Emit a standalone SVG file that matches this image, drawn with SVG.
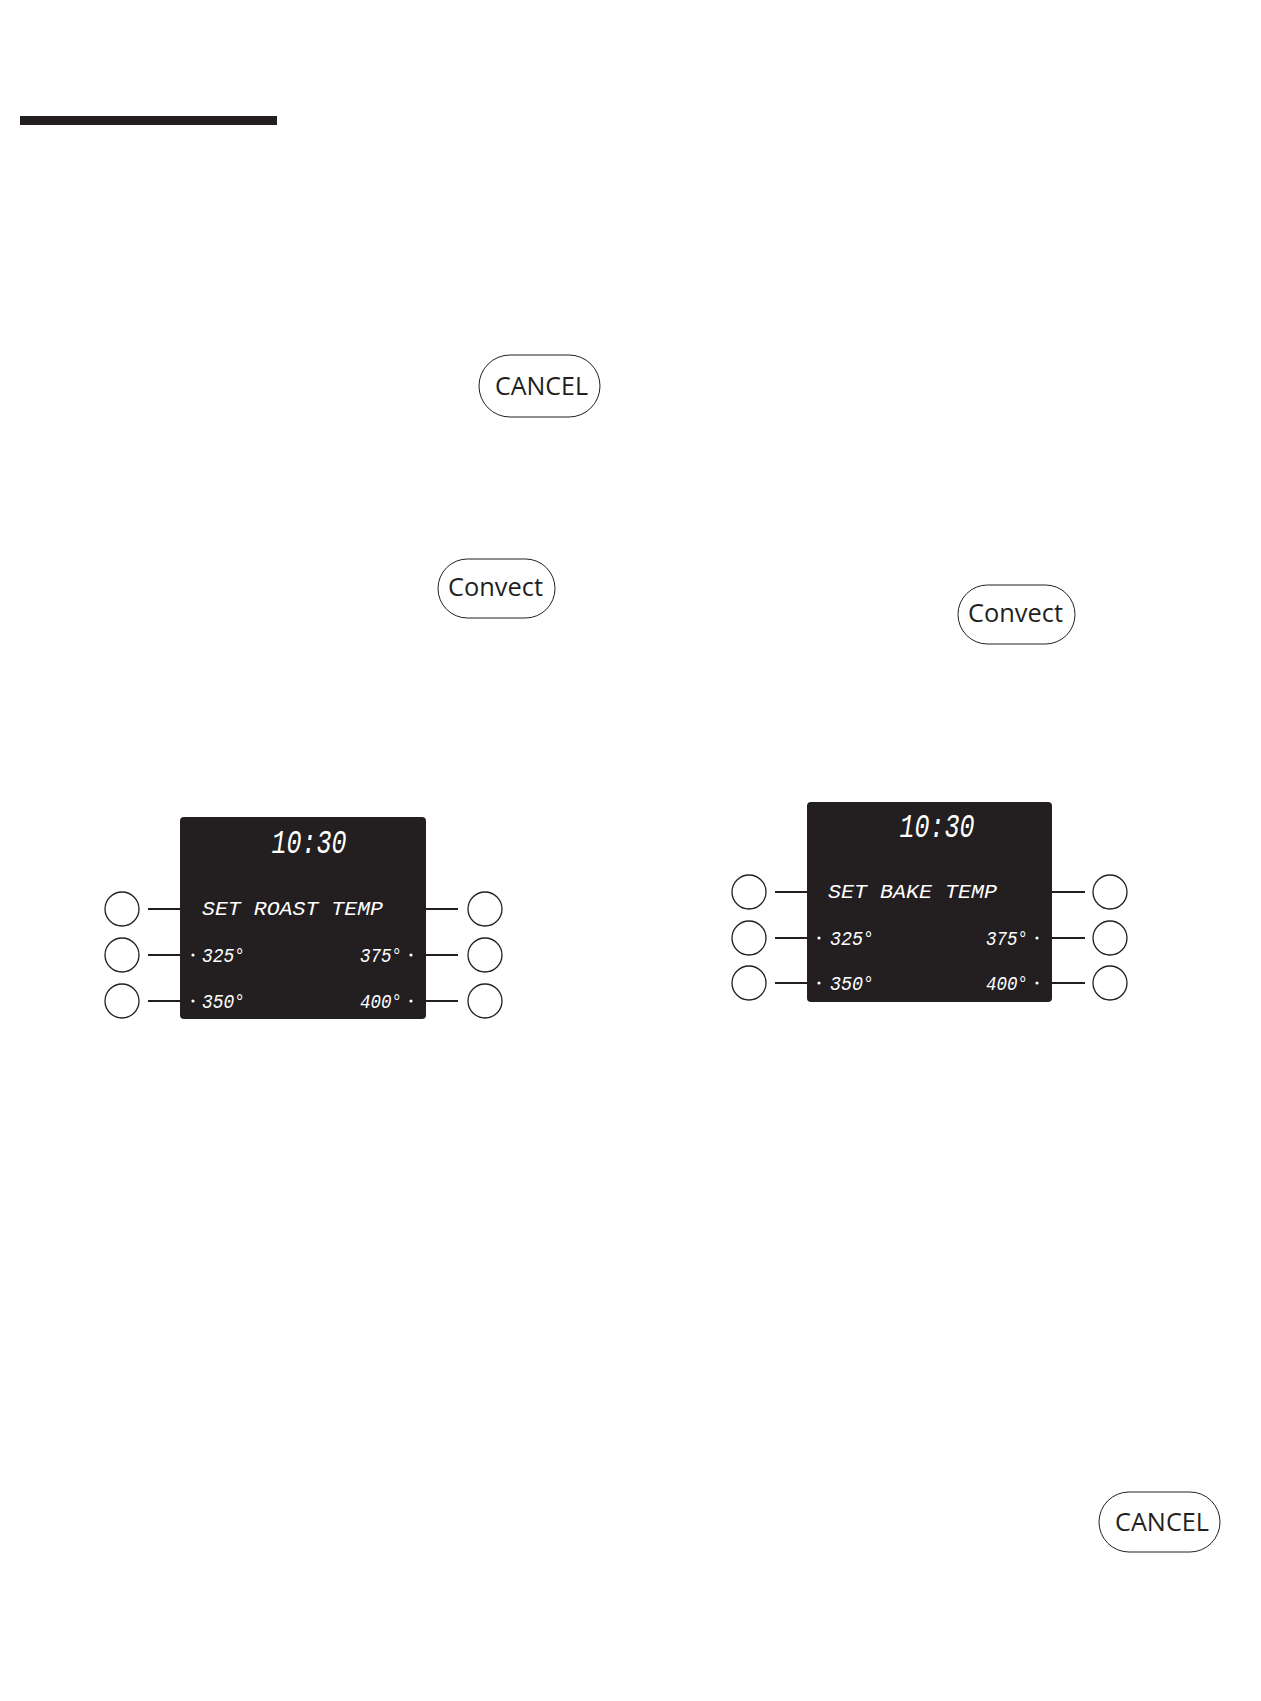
<svg xmlns="http://www.w3.org/2000/svg" width="1261" height="1701" viewBox="0 0 1261 1701">
<style>
.pill{fill:#fff;stroke:#231f20;stroke-width:1}
.btn{font-family:"Open Sans","Liberation Sans",sans-serif;fill:#231f20;font-size:25px}
.disp{fill:#231f20}
.lcd{font-family:"Liberation Mono","DejaVu Sans Mono",monospace;font-style:italic;fill:#fff}
.key{fill:#fff;stroke:#231f20;stroke-width:1.3}
.lead{stroke:#231f20;stroke-width:2;fill:none}
.dot{fill:#fff}
</style>
<rect x="20" y="116" width="257" height="9" fill="#231f20"/>

<g id="cancel-1">
<rect class="pill" x="479" y="355" width="121" height="62" rx="31"/>
<text class="btn" x="495" y="395" textLength="93" lengthAdjust="spacingAndGlyphs">CANCEL</text>
</g>
<g id="convect-1">
<rect class="pill" x="438" y="559" width="117" height="59" rx="29.5"/>
<text class="btn" x="448" y="596" textLength="95" lengthAdjust="spacingAndGlyphs">Convect</text>
</g>
<g id="convect-2">
<rect class="pill" x="958" y="585" width="117" height="59" rx="29.5"/>
<text class="btn" x="968" y="622" textLength="95" lengthAdjust="spacingAndGlyphs">Convect</text>
</g>
<g id="cancel-2">
<rect class="pill" x="1099" y="1492" width="121" height="60" rx="30"/>
<text class="btn" x="1115" y="1531" textLength="94" lengthAdjust="spacingAndGlyphs">CANCEL</text>
</g>

<g id="connectors">
<line class="lead" x1="148" y1="909" x2="180" y2="909"/>
<line class="lead" x1="148" y1="955" x2="180" y2="955"/>
<line class="lead" x1="148" y1="1001" x2="180" y2="1001"/>
<line class="lead" x1="426" y1="909" x2="458" y2="909"/>
<line class="lead" x1="426" y1="955" x2="458" y2="955"/>
<line class="lead" x1="426" y1="1001" x2="458" y2="1001"/>
<line class="lead" x1="775" y1="892" x2="807" y2="892"/>
<line class="lead" x1="775" y1="938" x2="807" y2="938"/>
<line class="lead" x1="775" y1="983" x2="807" y2="983"/>
<line class="lead" x1="1052" y1="892" x2="1085" y2="892"/>
<line class="lead" x1="1052" y1="938" x2="1085" y2="938"/>
<line class="lead" x1="1052" y1="983" x2="1085" y2="983"/>
</g>

<g id="display-roast">
<rect class="disp" x="180" y="817" width="246" height="202" rx="4"/>
<text class="lcd" x="309" y="853" font-size="33" text-anchor="middle" textLength="75" lengthAdjust="spacingAndGlyphs">10:30</text>
<text class="lcd" x="202" y="915" font-size="20" textLength="181" lengthAdjust="spacingAndGlyphs">SET  ROAST  TEMP</text>
<circle class="dot" cx="193" cy="955" r="1.6"/>
<text class="lcd" x="202" y="962" font-size="21" textLength="43" lengthAdjust="spacingAndGlyphs">325°</text>
<text class="lcd" x="360" y="962" font-size="21" textLength="42" lengthAdjust="spacingAndGlyphs">375°</text>
<circle class="dot" cx="411" cy="955" r="1.6"/>
<circle class="dot" cx="193" cy="1001" r="1.6"/>
<text class="lcd" x="202" y="1008" font-size="21" textLength="43" lengthAdjust="spacingAndGlyphs">350°</text>
<text class="lcd" x="360" y="1008" font-size="21" textLength="42" lengthAdjust="spacingAndGlyphs">400°</text>
<circle class="dot" cx="411" cy="1001" r="1.6"/>
</g>
<g id="keys-roast">
<ellipse class="key" cx="122" cy="909" rx="17" ry="17"/>
<ellipse class="key" cx="122" cy="955" rx="17" ry="17"/>
<ellipse class="key" cx="122" cy="1001" rx="17" ry="17"/>
<ellipse class="key" cx="485" cy="909" rx="17" ry="17"/>
<ellipse class="key" cx="485" cy="955" rx="17" ry="17"/>
<ellipse class="key" cx="485" cy="1001" rx="17" ry="17"/>
</g>

<g id="display-bake">
<rect class="disp" x="807" y="802" width="245" height="200" rx="4"/>
<text class="lcd" x="937" y="837" font-size="33" text-anchor="middle" textLength="75" lengthAdjust="spacingAndGlyphs">10:30</text>
<text class="lcd" x="828" y="898" font-size="20" textLength="169" lengthAdjust="spacingAndGlyphs">SET  BAKE  TEMP</text>
<circle class="dot" cx="819" cy="938" r="1.6"/>
<text class="lcd" x="830" y="945" font-size="21" textLength="44" lengthAdjust="spacingAndGlyphs">325°</text>
<text class="lcd" x="986" y="945" font-size="21" textLength="42" lengthAdjust="spacingAndGlyphs">375°</text>
<circle class="dot" cx="1037" cy="938" r="1.6"/>
<circle class="dot" cx="819" cy="983" r="1.6"/>
<text class="lcd" x="830" y="990" font-size="21" textLength="44" lengthAdjust="spacingAndGlyphs">350°</text>
<text class="lcd" x="986" y="990" font-size="21" textLength="42" lengthAdjust="spacingAndGlyphs">400°</text>
<circle class="dot" cx="1037" cy="983" r="1.6"/>
</g>
<g id="keys-bake">
<ellipse class="key" cx="749" cy="892" rx="17" ry="17"/>
<ellipse class="key" cx="749" cy="938" rx="17" ry="17"/>
<ellipse class="key" cx="749" cy="983" rx="17" ry="17"/>
<ellipse class="key" cx="1110" cy="892" rx="17" ry="17"/>
<ellipse class="key" cx="1110" cy="938" rx="17" ry="17"/>
<ellipse class="key" cx="1110" cy="983" rx="17" ry="17"/>
</g>
</svg>
